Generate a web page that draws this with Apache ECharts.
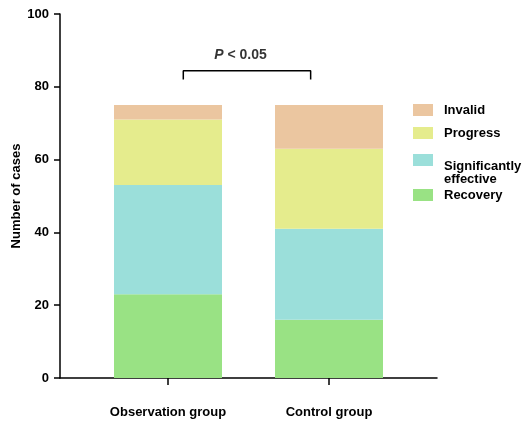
<!DOCTYPE html>
<html>
<head>
<meta charset="utf-8">
<script src="https://cdn.jsdelivr.net/npm/echarts@6/dist/echarts.min.js"></script>
<style>html,body{margin:0;padding:0;background:#fff}#c{width:530px;height:422px}</style>
</head>
<body>
<div id="c"></div>
<script>
// ---- data ----
const categories = ['Observation group', 'Control group'];
const recovery = [23, 16];
const sigEffective = [30, 25];
const progress = [18, 22];
const invalid = [4, 12];
const yTicks = [0, 20, 40, 60, 80, 100];
// significance bracket (x in category-index units, y in cases)
const bracketX = [0.095, 0.886];
const bracketY = [82, 84.4];
const pLabelPos = [0.45, 88.7];

const FONT = '"Liberation Sans", Arial, Helvetica, sans-serif';
const colors = { recovery: '#99E284', sig: '#9BDFDA', progress: '#E5EC8D', invalid: '#EBC6A0' };

const chart = echarts.init(document.getElementById('c'), null, { renderer: 'canvas' });

const legendBase = {
  orient: 'vertical', left: 413, itemWidth: 20, itemHeight: 12, icon: 'rect', padding: 0,
  selectedMode: false,
  textStyle: { fontFamily: FONT, fontWeight: 'bold', fontSize: 13, color: '#000', lineHeight: 16, padding: [0, 0, 0, 6] }
};

const option = {
  animation: false,
  backgroundColor: '#fff',
  grid: [
    { left: 87.5, right: 120.5, top: 14, bottom: 44, outerBoundsMode: 'none', containLabel: false },
    { left: 60, right: 93, top: 14, bottom: 44, outerBoundsMode: 'none', containLabel: false }
  ],
  xAxis: [
    {
      gridIndex: 0, type: 'category', data: categories,
      axisLine: { show: false },
      axisTick: { show: true, alignWithLabel: true, length: 7, lineStyle: { color: '#000', width: 1.5 } },
      axisLabel: { margin: 28, fontFamily: FONT, fontWeight: 'bold', fontSize: 13, color: '#000' }
    },
    {
      gridIndex: 1, type: 'value', min: -0.6708, max: 1.6708,
      axisLine: { show: true, onZero: false, lineStyle: { color: '#000', width: 1.5 } },
      axisTick: { show: false }, axisLabel: { show: false }, splitLine: { show: false }
    }
  ],
  yAxis: [
    { gridIndex: 0, type: 'value', min: 0, max: 100, show: false, splitLine: { show: false } },
    {
      gridIndex: 1, type: 'value', min: yTicks[0], max: yTicks[yTicks.length - 1], interval: 20,
      name: 'Number of cases', nameLocation: 'middle', nameGap: 37, nameMoveOverlap: false,
      nameTextStyle: { fontFamily: FONT, fontWeight: 'bold', fontSize: 13, color: '#000' },
      axisLine: { show: true, onZero: false, lineStyle: { color: '#000', width: 1.5 } },
      axisTick: { show: true, length: 6, lineStyle: { color: '#000', width: 1.5 } },
      axisLabel: { margin: 11, fontFamily: FONT, fontWeight: 'bold', fontSize: 13, color: '#000' },
      splitLine: { show: false }
    }
  ],
  legend: [
    Object.assign({}, legendBase, { top: 102, data: ['Invalid'] }),
    Object.assign({}, legendBase, { top: 125, data: ['Progress'] }),
    Object.assign({}, legendBase, {
      top: 134.5, data: ['Significantly effective'],
      formatter: () => '{a| }\n{b|Significantly}\n{b|effective}',
      textStyle: Object.assign({}, legendBase.textStyle, {
        lineHeight: 13,
        rich: {
          a: { lineHeight: 25, fontSize: 13, fontFamily: FONT },
          b: { lineHeight: 13, fontSize: 13, fontFamily: FONT, fontWeight: 'bold', color: '#000' }
        }
      })
    }),
    Object.assign({}, legendBase, { top: 187, data: ['Recovery'] })
  ],
  series: [
    { name: 'Recovery', type: 'bar', stack: 's', barWidth: 108, xAxisIndex: 0, yAxisIndex: 0, data: recovery, itemStyle: { color: colors.recovery } },
    { name: 'Significantly effective', type: 'bar', stack: 's', barWidth: 108, xAxisIndex: 0, yAxisIndex: 0, data: sigEffective, itemStyle: { color: colors.sig } },
    { name: 'Progress', type: 'bar', stack: 's', barWidth: 108, xAxisIndex: 0, yAxisIndex: 0, data: progress, itemStyle: { color: colors.progress } },
    { name: 'Invalid', type: 'bar', stack: 's', barWidth: 108, xAxisIndex: 0, yAxisIndex: 0, data: invalid, itemStyle: { color: colors.invalid } },
    {
      type: 'line', xAxisIndex: 1, yAxisIndex: 1, symbol: 'none', silent: true,
      lineStyle: { color: '#000', width: 1.5 },
      data: [[bracketX[0], bracketY[0]], [bracketX[0], bracketY[1]], [bracketX[1], bracketY[1]], [bracketX[1], bracketY[0]]]
    },
    {
      type: 'scatter', xAxisIndex: 1, yAxisIndex: 1, symbolSize: 0, silent: true,
      data: [pLabelPos],
      label: {
        show: true, position: 'inside',
        formatter: '{i|P}{n| < 0.05}',
        rich: {
          i: { fontFamily: FONT, fontWeight: 'bold', fontStyle: 'italic', fontSize: 14, color: '#000' },
          n: { fontFamily: FONT, fontWeight: 'bold', fontSize: 14, color: '#000' }
        }
      }
    }
  ]
};
chart.setOption(option);
</script>
</body>
</html>
